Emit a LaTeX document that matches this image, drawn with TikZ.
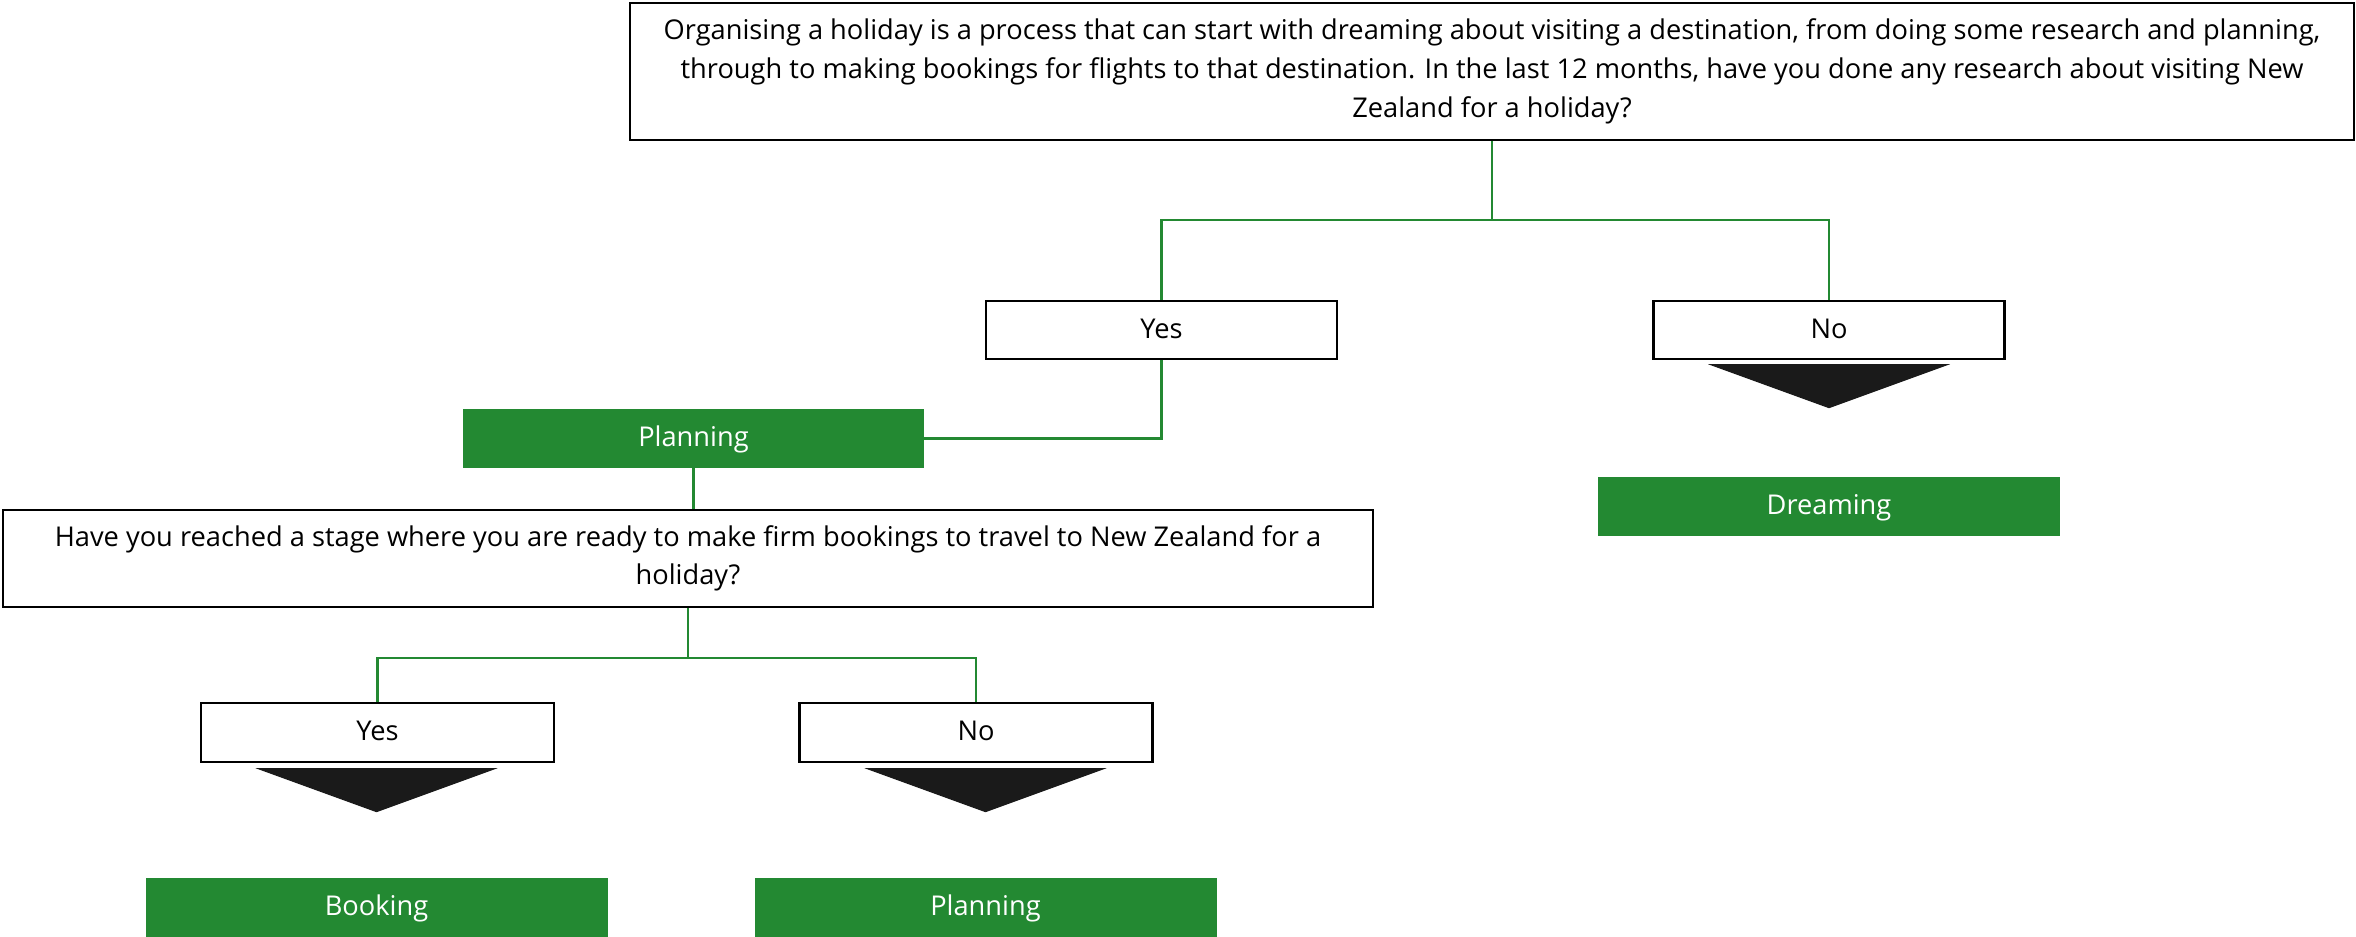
\documentclass[tikz,border=0pt]{standalone}
\usepackage{fontspec}
\setmainfont{Open Sans}
\usepackage{tikz}

\definecolor{nzgreen}{RGB}{35,137,50}
\definecolor{tipgrey}{RGB}{26,26,26}

\begin{document}
\begin{tikzpicture}
        \tikzset{QuestionStyle/.style={draw, line width=1.4pt, fill=white,
                align=center, inner sep=0pt, font=\fontsize{15.5}{22}\selectfont},
                AnswerStyle/.style={QuestionStyle, minimum width=7.02cm, minimum height=1.16cm,
                text height=1.2em, text depth=0.25em},
                StageStyle/.style={fill=nzgreen, text=white, minimum width=9.24cm,
                minimum height=1.18cm, inner sep=0pt, font=\fontsize{15.5}{18}\selectfont,
                text height=1.2em, text depth=0.25em},
                LinkStyle/.style={draw=nzgreen, line width=1.4pt},
                TipStyle/.style={fill=tipgrey}}
        \useasboundingbox (0,0) rectangle (47.12,18.74);
        \node[QuestionStyle, minimum width=34.48cm, minimum height=2.74cm] (visit) at (29.84,17.31)
        {Organising a holiday is a process that can start with dreaming about visiting a destination, from doing some research and planning,\\
        through to making bookings for flights to that destination. In the last 12 months, have you done any research about visiting New\\
        Zealand for a holiday?};
        \node[AnswerStyle] (yes) at (23.23,12.14) {Yes};
        \node[AnswerStyle] (no) at (36.58,12.14) {No};
        \node[StageStyle] (dream) at (36.58,8.61) {Dreaming};
        \node[StageStyle, minimum width=9.22cm] (plan) at (13.87,9.97) {Planning};
        \node[QuestionStyle, minimum width=27.4cm, minimum height=1.94cm] (ready) at (13.76,7.57)
        {Have you reached a stage where you are ready to make firm bookings to travel to New Zealand for a\\ holiday?};
        \node[AnswerStyle, minimum width=7.06cm, minimum height=1.18cm] (yesb) at (7.55,4.09) {Yes};
        \node[AnswerStyle, minimum width=7.06cm, minimum height=1.18cm] (nob) at (19.52,4.09) {No};
        \node[StageStyle] (book) at (7.53,0.59) {Booking};
        \node[StageStyle] (planb) at (19.71,0.59) {Planning};
        % connectors
        \draw[LinkStyle] (visit.south) -- ++(0,-1.58) coordinate (splita) -| (yes.north);
        \draw[LinkStyle] (splita) -| (no.north);
        \draw[LinkStyle] (yes.south) |- (plan.east);
        \draw[LinkStyle] (plan.south) -- (plan.south |- ready.north);
        \draw[LinkStyle] (ready.south) -- ++(0,-1.0) coordinate (splitb) -| (yesb.north);
        \draw[LinkStyle] (splitb) -| (nob.north);
        % arrow heads
        \fill[TipStyle] (no.south -| dream.north) ++(-2.42,-0.08) -- ++(4.84,0) -- ++(-2.42,-0.88) -- cycle;
        \fill[TipStyle] (yesb.south -| book.north) ++(-2.42,-0.1) -- ++(4.84,0) -- ++(-2.42,-0.88) -- cycle;
        \fill[TipStyle] (nob.south -| planb.north) ++(-2.42,-0.1) -- ++(4.84,0) -- ++(-2.42,-0.88) -- cycle;
\end{tikzpicture}
\end{document}
